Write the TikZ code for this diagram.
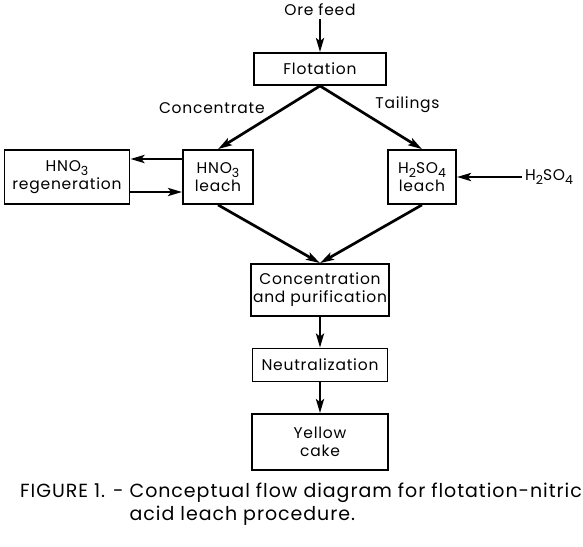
\documentclass[tikz,border=0pt]{standalone}
\usepackage{fontspec}
\setmainfont{Poppins}[LetterSpace=5]
\usetikzlibrary{arrows.meta}
\newcommand{\chemsub}[1]{\raisebox{-0.45ex}{\fontsize{12.5}{14}\selectfont #1}}
\begin{document}
\begin{tikzpicture}[x=1pt, y=1pt, node distance=100pt,
        box/.style={rectangle, draw=black, line width=1.8pt, inner sep=2pt, align=center, font=\fontsize{15.5}{18}\selectfont},
        lbl/.style={inner sep=3pt, align=center, font=\fontsize{15.5}{18}\selectfont},
        flow/.style={line width=2.7pt, -{Stealth[length=14pt, width=8pt, inset=3pt]}}]
        \useasboundingbox (0,0) rectangle (583,-546);

        % Flotation
        \node[box, minimum width=132pt, minimum height=32pt] (flotation) at (320,-69) {Flotation};
        \node[lbl, above of=flotation, node distance=59pt] (orefeed) {Ore feed};

        % Leaching
        \node[box, minimum width=70pt, minimum height=54pt, below of=flotation, node distance=108pt, xshift=-102pt] (hno3leach) {HNO\chemsub{3}\\leach};
        \node[box, minimum width=68pt, minimum height=54pt, below of=flotation, node distance=108pt, xshift=102pt] (h2so4leach) {H\chemsub{2}SO\chemsub{4}\\leach};
        \node[box, minimum width=125pt, minimum height=54pt, left of=hno3leach, node distance=151pt] (regeneration) {HNO\chemsub{3}\\regeneration};
        \node[lbl, right of=h2so4leach, node distance=127pt] (h2so4in) {H\chemsub{2}SO\chemsub{4}};

        % Purification and product
        \node[box, minimum width=136pt, minimum height=52pt, below of=flotation, node distance=221pt] (concentration) {Concentration\\and purification};
        \node[box, minimum width=135pt, minimum height=33pt, below of=concentration, node distance=75pt] (neutralization) {Neutralization};
        \node[box, minimum width=136pt, minimum height=56pt, below of=neutralization, node distance=77pt] (yellowcake) {Yellow\\cake};

        % Caption
        \node[anchor=north west, inner sep=0pt, font=\fontsize{19}{23}\selectfont] (caption) at (20,-481) {\begin{tabular}{@{}l@{\ }l@{}}FIGURE 1. -&Conceptual flow diagram for flotation-nitric\\&acid leach procedure.\end{tabular}};

        % Draw arrows
        \draw[flow] (orefeed) -- (flotation);
        \draw[flow] (flotation.south) -- node[lbl, above left] (concentrate) {Concentrate} (hno3leach.north);
        \draw[flow] (flotation.south) -- node[lbl, above right] (tailings) {Tailings} (h2so4leach.north);
        \draw[flow] ([yshift=18pt]hno3leach.west) -- ([yshift=18pt]regeneration.east);
        \draw[flow] ([yshift=-15pt]regeneration.east) -- ([yshift=-15pt]hno3leach.west);
        \draw[flow] (h2so4in) -- (h2so4leach);
        \draw[flow] (hno3leach.south) -- (concentration.north);
        \draw[flow] (h2so4leach.south) -- (concentration.north);
        \draw[flow] (concentration) -- (neutralization);
        \draw[flow] (neutralization) -- (yellowcake);

    \end{tikzpicture}
\end{document}
